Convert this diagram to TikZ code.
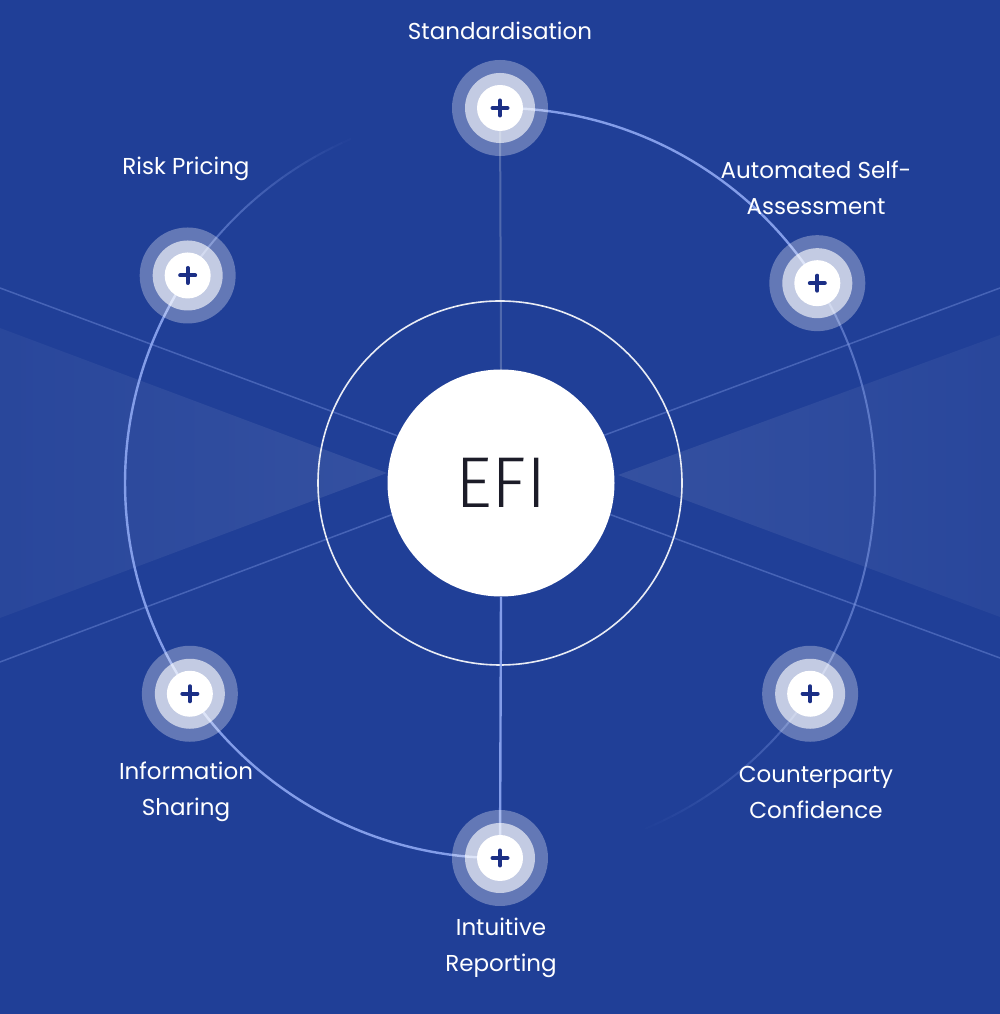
\documentclass[tikz,border=0pt]{standalone}
\usepackage{fontspec}
\setmainfont{Poppins}
\newfontfamily\efifont{Fira Sans Light}
\usetikzlibrary{calc}
\definecolor{bgc}{HTML}{203F97}
\definecolor{lb}{HTML}{8EA8F2}
\definecolor{navy}{HTML}{1B2F86}
\definecolor{efitext}{HTML}{1C1C28}
\begin{document}
\begin{tikzpicture}[x=1pt,y=1pt,
  lbl/.style={text=white, align=center, inner sep=0pt, font=\fontsize{23}{36}\selectfont},
  plusnode/.style={circle, minimum size=96pt, inner sep=0pt},
  brightarc/.style={lb, line width=2.4pt, opacity=0.9},
  dimarc/.style={lb, line width=2pt, opacity=0.5},
  ray/.style={lb, line width=1.5pt, opacity=0.35},
  wedge/.style={left color=bgc!96!white, right color=bgc!91!white},
  wedgeR/.style={right color=bgc!96!white, left color=bgc!91!white}]
\fill[bgc] (0,0) rectangle (1000,1014);
\useasboundingbox (0,0) rectangle (1000,1014);
\coordinate (O) at (500,531);
\def\R{375}
% wedges
\coordinate (wl1) at (0,686); \coordinate (wla) at (387,541); \coordinate (wl2) at (0,396);
\coordinate (wr1) at (1000,679); \coordinate (wra) at (618,539); \coordinate (wr2) at (1000,397);
\shade[wedge] (wl1) -- (wla) -- (wl2) -- cycle;
\shade[wedgeR] (wr1) -- (wra) -- (wr2) -- cycle;
% rays
\coordinate (rc) at (500,540);
\coordinate (rl1) at (0,726); \coordinate (rl2) at (0,352);
\coordinate (rr1) at (1000,726); \coordinate (rr2) at (1000,356);
\draw[ray] (rl1) -- (rc); \draw[ray] (rl2) -- (rc);
\draw[ray] (rr1) -- (rc); \draw[ray] (rr2) -- (rc);
% inner ring
\draw[white, line width=1.6pt, opacity=0.9] (O) circle (182);
% node placeholders
\node[plusnode] (std) at ($(O)+(90:\R)$) {};
\node[plusnode] (auto) at ($(O)+(32.2:\R)$) {};
\node[plusnode] (cp) at ($(O)+(-34.2:\R)$) {};
\node[plusnode] (ir) at ($(O)+(-90:\R)$) {};
\node[plusnode] (is) at ($(O)+(214.2:\R)$) {};
\node[plusnode] (risk) at ($(O)+(146.4:\R)$) {};
% arcs
\draw[brightarc] (std.center) arc[start angle=90, end angle=32.2, radius=\R];
\draw[dimarc] (auto.center) arc[start angle=32.2, end angle=-34.2, radius=\R];
\draw[brightarc] (risk.center) arc[start angle=146.4, end angle=214.2, radius=\R];
\draw[brightarc] (is.center) arc[start angle=214.2, end angle=270, radius=\R];
\foreach \i in {0,...,21}{
  \pgfmathsetmacro\aa{146.4-\i*1.5}
  \pgfmathsetmacro\bb{\aa-1.5}
  \pgfmathsetmacro\op{0.6*(1-\i/22)}
  \draw[lb, line width=2pt, opacity=\op] ($(O)+(\aa:\R)$) arc[start angle=\aa, end angle=\bb, radius=\R];
}
\foreach \i in {0,...,21}{
  \pgfmathsetmacro\aa{-34.2-\i*1.5}
  \pgfmathsetmacro\bb{\aa-1.5}
  \pgfmathsetmacro\op{0.4*(1-\i/22)}
  \draw[lb, line width=2pt, opacity=\op] ($(O)+(\aa:\R)$) arc[start angle=\aa, end angle=\bb, radius=\R];
}
% centre
\node[circle, fill=white, minimum size=227pt, inner sep=0pt, text=efitext,
  font=\efifont\fontsize{72}{72}\selectfont] (efi) at (501,531) {EFI};
\draw[white, line width=2pt, opacity=0.22] (std.center) -- (efi.north);
\draw[lb, line width=2.4pt, opacity=0.9] (efi.south) -- (ir.center);
% plus icons
\foreach \n in {std,auto,cp,ir,is,risk}{
  \fill[white, opacity=0.3] (\n) circle (48);
  \fill[white, opacity=0.62] (\n) circle (35);
  \fill[white] (\n) circle (23);
  \draw[navy, line width=4pt, line cap=round] ($(\n)+(-7.5,0)$) -- ($(\n)+(7.5,0)$);
  \draw[navy, line width=4pt, line cap=round] ($(\n)+(0,-7.5)$) -- ($(\n)+(0,7.5)$);
}
% labels
\node[lbl] (lstd) at (500,983) {Standardisation};
\node[lbl] (lrisk) at (186,845) {Risk Pricing};
\node[lbl] (lauto) at (816,826.5) {Automated Self-\\Assessment};
\node[lbl] (lis) at (186,222) {Information\\Sharing};
\node[lbl] (lcp) at (816,222) {Counterparty\\Confidence};
\node[lbl] (lir) at (501,66) {Intuitive\\Reporting};
\end{tikzpicture}
\end{document}
